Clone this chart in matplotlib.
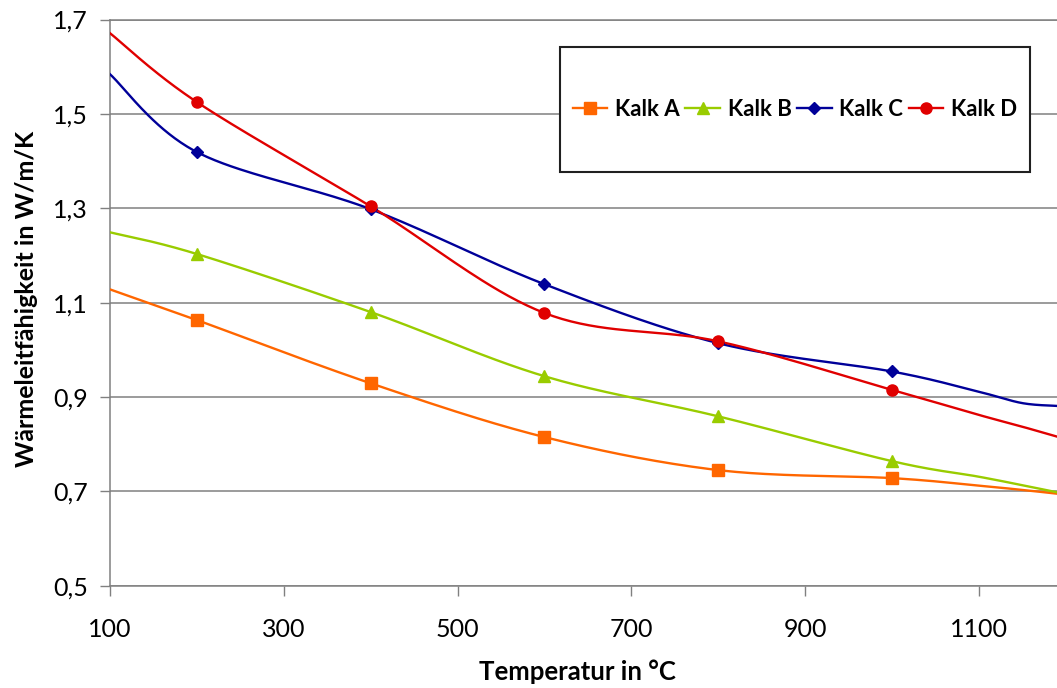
import numpy as np
import matplotlib
matplotlib.use("Agg")
import matplotlib.pyplot as plt
from matplotlib.patches import Rectangle
from matplotlib.lines import Line2D

plt.rcParams['font.family'] = ['Lato', 'DejaVu Sans']

# data (x positions; 100, 1100, 1150 and 1190 are curve points without markers)
temps = [100, 200, 400, 600, 800, 1000, 1100, 1150, 1190]
kalk_a = [1.128, 1.063, 0.929, 0.815, 0.745, 0.728, 0.712, 0.703, 0.695]
kalk_b = [1.249, 1.203, 1.080, 0.944, 0.859, 0.764, 0.731, 0.713, 0.698]
kalk_c = [1.584, 1.419, 1.298, 1.139, 1.014, 0.954, 0.911, 0.887, 0.881]
kalk_d = [1.671, 1.525, 1.304, 1.078, 1.018, 0.915, 0.862, 0.837, 0.816]
marked = slice(1, 6)
names = ["Kalk A", "Kalk B", "Kalk C", "Kalk D"]
colors = ["#FF6600", "#99CC00", "#000099", "#E00000"]
markers = ["s", "^", "D", "o"]
msizes = [8, 8.5, 6.5, 8]
xticks = [100, 300, 500, 700, 900, 1100]
yticks = [0.5, 0.7, 0.9, 1.1, 1.3, 1.5, 1.7]

SX, SY = 0.8687, 472.0  # px per unit, for smoothing in screen space


def smooth(xs, ys, n=40):
    P = np.column_stack([np.asarray(xs, float) * SX, np.asarray(ys, float) * SY])
    pts = []
    m = len(P)
    for i in range(m - 1):
        p0 = P[i - 1] if i > 0 else P[i]
        p1 = P[i]
        p2 = P[i + 1]
        p3 = P[i + 2] if i + 2 < m else P[i + 1]
        c1 = p1 + (p2 - p0) / 6.0
        c2 = p2 - (p3 - p1) / 6.0
        t = np.linspace(0, 1, n)[:, None]
        seg = ((1 - t) ** 3) * p1 + 3 * ((1 - t) ** 2) * t * c1 + 3 * (1 - t) * t ** 2 * c2 + t ** 3 * p2
        pts.append(seg if i == 0 else seg[1:])
    pts = np.vstack(pts)
    return pts[:, 0] / SX, pts[:, 1] / SY


fig = plt.figure(figsize=(10.57, 6.88), dpi=100)
ax = fig.add_axes([110 / 1057, 102.3 / 688, 947 / 1057, 566.2 / 688])

series = [kalk_a, kalk_b, kalk_c, kalk_d]
handles = []
for vals, name, c, mk, ms in zip(series, names, colors, markers, msizes):
    sx, sy = smooth(temps, vals)
    ax.plot(sx, sy, color=c, lw=1.7, zorder=3)
    ax.plot(temps[marked], vals[marked], linestyle='none', marker=mk, ms=ms,
            color=c, markeredgecolor=c, zorder=4)
    handles.append(Line2D([], [], color=c, lw=1.7, marker=mk, ms=ms, markeredgecolor=c))

ax.set_xlim(100, 1190)
ax.set_ylim(0.5, 1.7)
ax.set_xticks(xticks)
ax.set_yticks(yticks)
ax.set_xticklabels([str(v) for v in xticks])
ax.set_yticklabels([f"{v:.1f}".replace('.', ',') for v in yticks])
ax.tick_params(axis='both', labelsize=18, length=7, width=1.0, color='#808080', direction='out')
ax.tick_params(axis='x', pad=16)
ax.tick_params(axis='y', pad=9)
ax.grid(axis='y', color='#808080', lw=1.1, zorder=1)
ax.grid(axis='x', visible=False)
ax.spines['right'].set_visible(False)
for s in ['top', 'left', 'bottom']:
    ax.spines[s].set_color('#808080')
    ax.spines[s].set_linewidth(1.1)

fig.text(577 / 1057, 1 - 672 / 688, "Temperatur in °C", ha='center', va='center',
         fontsize=18.5, fontweight='bold')
fig.text(27 / 1057, 1 - 299 / 688, "Wärmeleitfähigkeit in W/m/K", ha='center', va='center',
         rotation=90, fontsize=18, fontweight='bold')

# legend box
x0, x1 = (560 - 110) / 947, (1030 - 110) / 947
y1, y0 = (585.7 - 47) / 566.2, (585.7 - 172) / 566.2
ax.add_patch(Rectangle((x0, y0), x1 - x0, y1 - y0, transform=ax.transAxes,
                       facecolor='white', edgecolor='#202020', lw=1.5, zorder=5))
leg = ax.legend(handles, names, loc='center', bbox_to_anchor=((x0 + x1) / 2, (y0 + y1) / 2),
                ncol=4, frameon=False, prop={'weight': 'bold', 'size': 16},
                handlelength=1.55, handletextpad=0.35, columnspacing=0.25)
leg.set_zorder(6)

fig.savefig("out.png", dpi=100)
